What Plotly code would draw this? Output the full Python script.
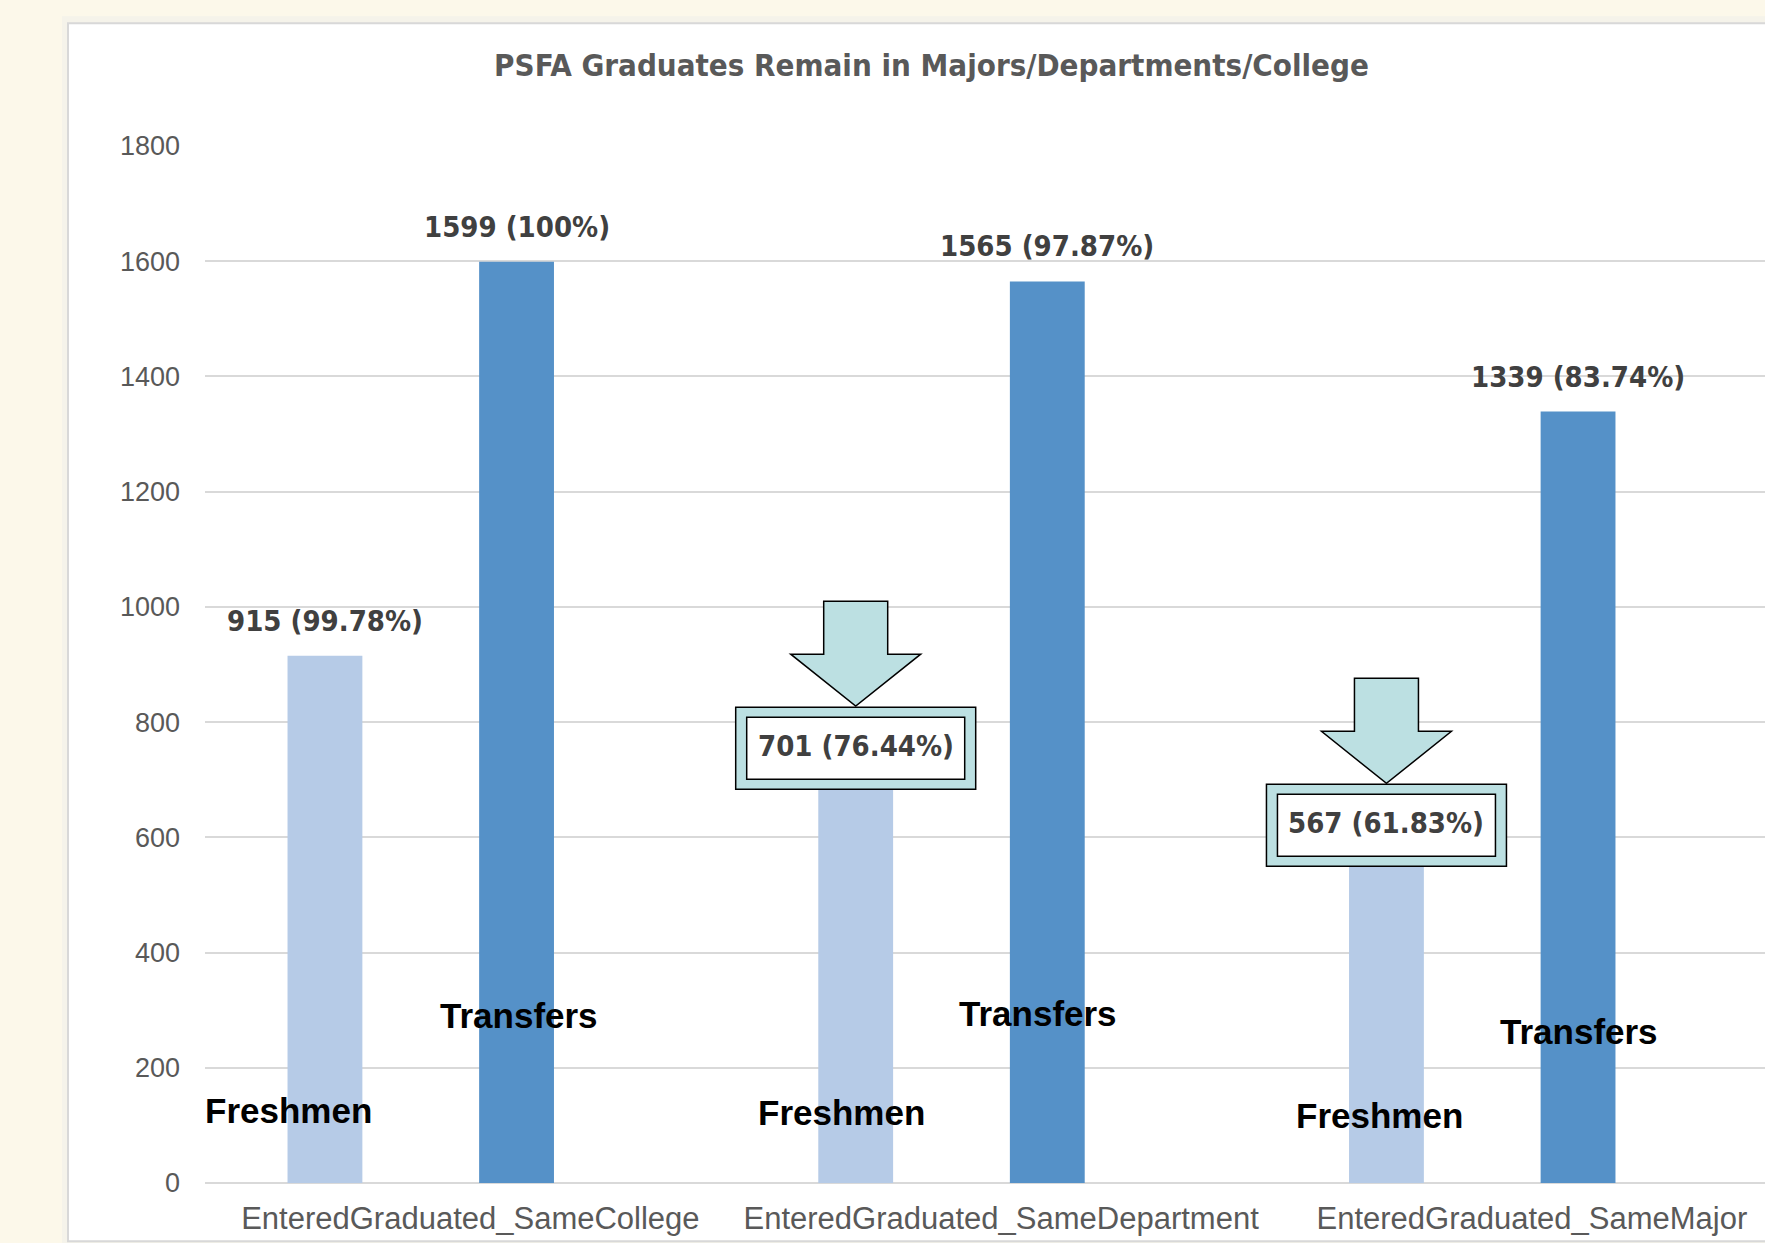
import plotly.graph_objects as go

# ---------------- data ----------------
categories = ["EnteredGraduated_SameCollege", "EnteredGraduated_SameDepartment", "EnteredGraduated_SameMajor"]
series_names = ["Freshmen", "Transfers"]
freshmen = [915, 701, 567]
freshmen_pct = ["99.78%", "76.44%", "61.83%"]
transfers = [1599, 1565, 1339]
transfers_pct = ["100%", "97.87%", "83.74%"]
freshmen_highlight = [False, True, True]   # boxed label with arrow
y_ticks = [0, 200, 400, 600, 800, 1000, 1200, 1400, 1600, 1800]
title_text = "PSFA Graduates Remain in Majors/Departments/College"

# ---------------- layout constants (page pixels) ----------------
PAGE_W, PAGE_H = 1765, 1243
BODY = 0                      # body margin removed by the post script
W, H = PAGE_W - BODY, PAGE_H - BODY
PL, PR, PT, PB = 205 - BODY, 1765 - BODY, 145.7 - BODY, 1182.7 - BODY
SLOT = 530.75
X_RANGE = [-0.5, -0.5 + (PR - PL) / SLOT]
BAR_W = 0.141
OFFSETS = [-0.274, 0.087]
COLORS = ["#B6CBE7", "#5591C8"]
TEAL = "#BCE0E2"
CREAM = "#FCF8EA"
LABEL_FONT = dict(family="DejaVu Sans Condensed, DejaVu Sans, sans-serif", size=29, color="#404040", weight="bold")
NAME_FONT = dict(family="Liberation Sans, Arial, sans-serif", size=35, color="#000000", weight="bold")
# manual positions of the in-bar series name labels: (x offset from category, y in data units)
NAME_POS = {
    "Freshmen": [(-0.342, 125), (-0.300, 123), (-0.288, 117)],
    "Transfers": [(0.0916, 291), (0.0695, 295), (0.0887, 263)],
}


def px_to_paper_x(px):
    return (px - BODY - PL) / (PR - PL)


def px_to_paper_y(py):
    return (PB - (py - BODY)) / (PB - PT)


fig = go.Figure()
for name, vals, off, col in zip(series_names, [freshmen, transfers], OFFSETS, COLORS):
    fig.add_trace(go.Bar(
        x=categories, y=vals, name=name,
        offset=off - BAR_W / 2, width=BAR_W,
        marker=dict(color=col, line=dict(width=0)),
        hoverinfo="x+y",
    ))

annotations = []
shapes = []

# card background with soft shadow
shapes.append(dict(type="rect", xref="paper", yref="paper", layer="below",
                   x0=px_to_paper_x(62), x1=px_to_paper_x(1800),
                   y0=px_to_paper_y(1260), y1=px_to_paper_y(16),
                   fillcolor="#F5F3EA", line=dict(width=0)))
shapes.append(dict(type="rect", xref="paper", yref="paper", layer="below",
                   x0=px_to_paper_x(68), x1=px_to_paper_x(1800),
                   y0=px_to_paper_y(1241), y1=px_to_paper_y(23),
                   fillcolor="#FFFFFF", line=dict(color="#D8D8D8", width=2)))

# data labels
for i, (v, p) in enumerate(zip(transfers, transfers_pct)):
    annotations.append(dict(x=i + OFFSETS[1], y=v, xref="x", yref="y", text=f"{v} ({p})",
                            showarrow=False, yanchor="middle", yshift=35, font=LABEL_FONT))

for i, (v, p, hl) in enumerate(zip(freshmen, freshmen_pct, freshmen_highlight)):
    xa = i + OFFSETS[0]
    if not hl:
        annotations.append(dict(x=xa, y=v, xref="x", yref="y", text=f"{v} ({p})",
                                showarrow=False, yanchor="middle", yshift=35, font=LABEL_FONT))
        continue
    # outer teal box, inner white box, down arrow
    shapes.append(dict(type="rect", xref="x", yref="y", xsizemode="pixel", ysizemode="pixel",
                       xanchor=xa, yanchor=v, x0=-120, x1=120, y0=-10, y1=72,
                       fillcolor=TEAL, line=dict(color="#000000", width=1.5), layer="above"))
    shapes.append(dict(type="rect", xref="x", yref="y", xsizemode="pixel", ysizemode="pixel",
                       xanchor=xa, yanchor=v, x0=-109, x1=109, y0=0, y1=62,
                       fillcolor="#FFFFFF", line=dict(color="#000000", width=1.5), layer="above"))
    shapes.append(dict(type="path", xref="x", yref="y", xsizemode="pixel", ysizemode="pixel",
                       xanchor=xa, yanchor=v,
                       path="M -32,178 L 32,178 L 32,125 L 65,125 L 0,73 L -65,125 L -32,125 Z",
                       fillcolor=TEAL, line=dict(color="#000000", width=1.5), layer="above"))
    annotations.append(dict(x=xa, y=v, xref="x", yref="y", text=f"{v} ({p})",
                            showarrow=False, yanchor="middle", yshift=33, font=LABEL_FONT))

# series name labels inside the bars
for name in series_names:
    for i, (dx, yv) in enumerate(NAME_POS[name]):
        annotations.append(dict(x=i + dx, y=yv, xref="x", yref="y", text=name,
                                showarrow=False, yanchor="middle", font=NAME_FONT))

fig.update_layout(
    width=W, height=H,
    margin=dict(l=PL, r=W - PR, t=PT, b=H - PB, pad=0),
    paper_bgcolor=CREAM,
    plot_bgcolor="rgba(0,0,0,0)",
    barmode="overlay",
    showlegend=False,
    title=dict(text=title_text, xref="container", yref="container",
               x=(931.5 - BODY) / W, y=1 - (65 - BODY) / H, xanchor="center", yanchor="middle",
               font=dict(family="DejaVu Sans Condensed, DejaVu Sans, sans-serif",
                         size=31, color="#595959", weight="bold")),
    xaxis=dict(type="category", range=X_RANGE, showgrid=False, zeroline=False, showline=False,
               ticks="", ticklabelstandoff=14,
               tickfont=dict(family="Liberation Sans, Arial, sans-serif", size=31, color="#595959")),
    yaxis=dict(range=[0, 1800], tickvals=y_ticks, showgrid=True, gridcolor="#D9D9D9", gridwidth=2,
               zeroline=True, zerolinecolor="#D9D9D9", zerolinewidth=2, showline=False,
               ticks="", ticklabelstandoff=24,
               tickfont=dict(family="Liberation Sans, Arial, sans-serif", size=27, color="#595959")),
    annotations=annotations,
    shapes=shapes,
)

fig.write_html(
    "out.html",
    config={"displayModeBar": False},
    post_script=(f"document.body.style.backgroundColor='{CREAM}';"
                 "document.body.style.margin='0';"
                 "document.documentElement.style.overflow='hidden';"
                 "document.body.style.overflow='hidden';"),
)
